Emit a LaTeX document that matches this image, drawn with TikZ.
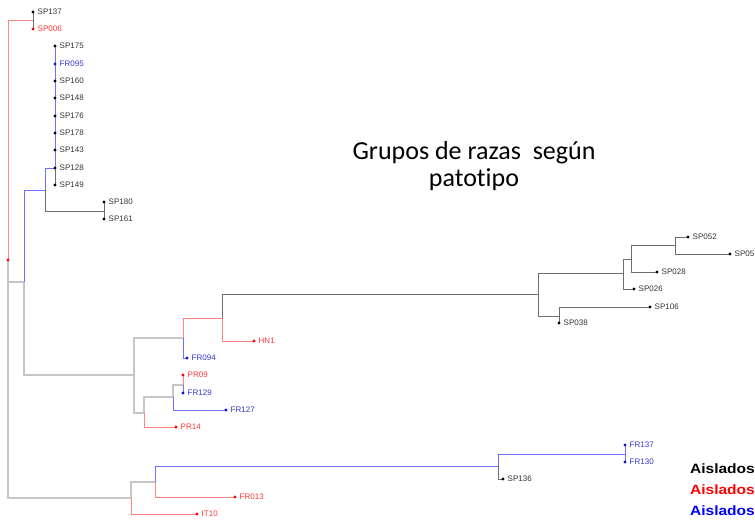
\documentclass[tikz,border=0pt]{standalone}
\usepackage{fontspec}
\setmainfont{Liberation Sans}
\newfontfamily\titlefont[Ligatures=NoCommon]{Carlito}
\usetikzlibrary{backgrounds}

\definecolor{lnblk}{HTML}{6E6E6E}
\definecolor{lngry}{HTML}{C6C6C6}
\definecolor{lnred}{HTML}{FF8585}
\definecolor{lnblu}{HTML}{7070FF}
\definecolor{dotblk}{HTML}{000000}
\definecolor{dotred}{HTML}{FF0000}
\definecolor{dotblu}{HTML}{1010E0}
\definecolor{txblk}{HTML}{333333}
\definecolor{txred}{HTML}{FF3535}
\definecolor{txblu}{HTML}{3535D0}

\tikzset{
  edgeblk/.style={draw=lnblk, line width=0.9pt},
  edgegry/.style={draw=lngry, line width=1.1pt},
  edgered/.style={draw=lnred, line width=0.9pt},
  edgeblu/.style={draw=lnblu, line width=0.9pt},
  lbl/.style={anchor=west, inner sep=0pt, xshift=4.5pt, font=\fontsize{8}{9}\selectfont},
  legend/.style={anchor=base east, inner sep=0pt, font=\fontsize{13.5}{16}\selectfont\bfseries}
}

\begin{document}
\begin{tikzpicture}[x=1pt, y=-1pt]
    \useasboundingbox (0,0) rectangle (755,521);
    % leaves
    \foreach \n/\x/\y/\c in {SP137/33/12/blk, SP006/33/29/red, SP175/55/46/blk, FR095/55/64/blu,
        SP160/55/81/blk, SP148/55/98/blk, SP176/55/116/blk, SP178/55/133/blk, SP143/55/150/blk,
        SP128/55/168/blk, SP149/55/185/blk, SP180/104/202/blk, SP161/104/219/blk,
        SP052/688/237/blk, SP05/730/254/blk, SP028/657/272/blk, SP026/634/289/blk,
        SP106/650/307/blk, SP038/559/323/blk, HN1/254/341/red, FR094/187/358/blu,
        PR09/183/375/red, FR129/183/393/blu, FR127/226/410/blu, PR14/176/427/red,
        FR137/625/445/blu, FR130/625/462/blu, SP136/503/479/blk, FR013/235/497/red, IT10/197/514/red}{
        \coordinate (\n) at (\x,\y);
        \fill[dot\c] (\n) circle (1.6pt);
        \node[lbl, text=tx\c] (\n-t) at (\n) {\n};
    }
    % inner nodes
    \coordinate (root) at (8,260);
    \coordinate (k1) at (33,20);
    \coordinate (k2) at (24,282);
    \coordinate (k3) at (45,190);
    \coordinate (k4) at (55,168);
    \coordinate (k5) at (104,211);
    \coordinate (k6) at (134,375);
    \coordinate (k7) at (183,338);
    \coordinate (k8) at (222,318);
    \coordinate (k9) at (538,294);
    \coordinate (k10) at (623,273);
    \coordinate (k11) at (631,259);
    \coordinate (k12) at (675,245);
    \coordinate (k13) at (559,316);
    \coordinate (k14) at (144,413);
    \coordinate (k15) at (173,397);
    \coordinate (k16) at (183,385);
    \coordinate (k17) at (131,498);
    \coordinate (k18) at (155,482);
    \coordinate (k19) at (498,466);
    \coordinate (k20) at (625,454);
    \fill[dotred] (root) circle (1.6pt);

    \begin{scope}[on background layer]
        \draw[edgered] (root) |- (k1);
        \draw[edgegry] (root) |- (k2);
        \draw[edgegry] (root) |- (k17);
        \draw[edgeblk] (k1) -- (SP137);
        \draw[edgeblk] (k1) -- (SP006);
        \draw[edgeblu] (k2) |- (k3);
        \draw[edgegry] (k2) |- (k6);
        \draw[edgeblu] (k3) |- (k4);
        \draw[edgeblk] (k3) |- (k5);
        \draw[edgeblu] (k4) -- (SP175);
        \draw[edgeblk] (k4) -- (SP149);
        \draw[edgeblk] (k5) -- (SP180);
        \draw[edgeblk] (k5) -- (SP161);
        \draw[edgegry] (k6) |- (k7);
        \draw[edgegry] (k6) |- (k14);
        \draw[edgered] (k7) |- (k8);
        \draw[edgeblu] (k7) |- (FR094);
        \draw[edgeblk] (k8) |- (k9);
        \draw[edgered] (k8) |- (HN1);
        \draw[edgeblk] (k9) |- (k10);
        \draw[edgeblk] (k9) |- (k13);
        \draw[edgeblk] (k10) |- (k11);
        \draw[edgeblk] (k10) |- (SP026);
        \draw[edgeblk] (k11) |- (k12);
        \draw[edgeblk] (k11) |- (SP028);
        \draw[edgeblk] (k12) |- (SP052);
        \draw[edgeblk] (k12) |- (SP05);
        \draw[edgeblk] (k13) |- (SP106);
        \draw[edgeblk] (k13) |- (SP038);
        \draw[edgegry] (k14) |- (k15);
        \draw[edgered] (k14) |- (PR14);
        \draw[edgegry] (k15) |- (k16);
        \draw[edgeblu] (k15) |- (FR127);
        \draw[edgered] (k16) -- (PR09);
        \draw[edgeblu] (k16) -- (FR129);
        \draw[edgegry] (k17) |- (k18);
        \draw[edgered] (k17) |- (IT10);
        \draw[edgeblu] (k18) |- (k19);
        \draw[edgered] (k18) |- (FR013);
        \draw[edgeblu] (k19) |- (k20);
        \draw[edgeblk] (k19) |- (SP136);
        \draw[edgeblu] (k20) -- (FR137);
        \draw[edgeblu] (k20) -- (FR130);
    \end{scope}

    % title and legend
    \node[anchor=base, inner sep=0pt, font=\titlefont\fontsize{26}{30}\selectfont] (title1) at (474,160) {Grupos de razas\ \ según};
    \node[anchor=base, inner sep=0pt, font=\titlefont\fontsize{26}{30}\selectfont] (title2) at (474,187) {patotipo};
    \node[legend, text=black] (leg1) at (755,473) {\scalebox{1.15}[1]{Aislados}};
    \node[legend, text=red] (leg2) at (755,494) {\scalebox{1.15}[1]{Aislados}};
    \node[legend, text=blue] (leg3) at (755,515) {\scalebox{1.15}[1]{Aislados}};
\end{tikzpicture}
\end{document}
